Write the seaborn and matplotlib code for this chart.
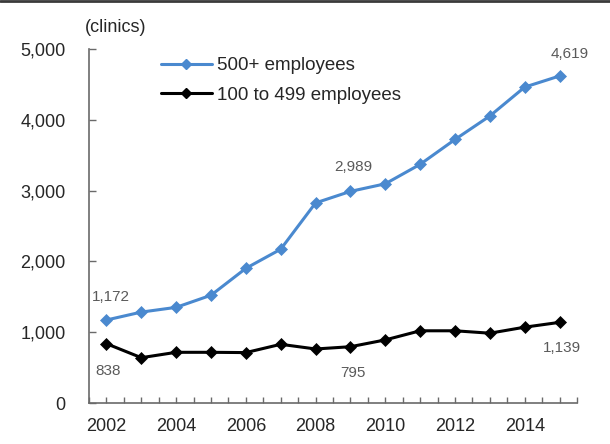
import matplotlib
matplotlib.use("Agg")
import matplotlib.pyplot as plt
import seaborn as sns
from matplotlib.ticker import MultipleLocator, FuncFormatter
from matplotlib.lines import Line2D

# ---- data ----
years = list(range(2002, 2016))
large_clinics = [1172, 1284, 1351, 1522, 1902, 2172, 2826, 2989, 3096, 3371, 3722, 4054, 4462, 4619]
mid_clinics = [838, 640, 716, 716, 712, 829, 763, 795, 891, 1020, 1020, 986, 1071, 1139]
series_names = ["500+ employees", "100 to 499 employees"]
y_ticks = [0, 1000, 2000, 3000, 4000, 5000]
x_tick_years = [2002, 2004, 2006, 2008, 2010, 2012, 2014]
unit_label = "(clinics)"

# labelled points: (series index, year)
labelled = [(0, 2002), (0, 2009), (0, 2015), (1, 2002), (1, 2009), (1, 2015)]

sns.set_theme(style="white")
plt.rcParams["font.family"] = ["Liberation Sans", "DejaVu Sans"]

blue = "#4a89cf"
black = "#000000"
axis_grey = "#6a6a6a"
text_dark = "#262626"
label_grey = "#5a5a5a"

fig = plt.figure(figsize=(6.1, 4.44), dpi=100)
ax = fig.add_axes([89 / 610, 1 - 403 / 444, (577 - 89) / 610, (403 - 49) / 444])

sns.lineplot(x=years, y=large_clinics, ax=ax, color=blue, linewidth=2.2,
             marker="D", markersize=6.5, markeredgecolor=blue, markeredgewidth=0.5)
sns.lineplot(x=years, y=mid_clinics, ax=ax, color=black, linewidth=2.2,
             marker="D", markersize=6.5, markeredgecolor=black, markeredgewidth=0.5)

ax.set_xlim(2001.5, 2015.5)
ax.set_ylim(y_ticks[0], y_ticks[-1])
ax.set_xticks(x_tick_years)
ax.set_xticklabels([str(y) for y in x_tick_years])
ax.xaxis.set_minor_locator(MultipleLocator(0.5))
ax.set_yticks(y_ticks)
ax.yaxis.set_major_formatter(FuncFormatter(lambda v, p: f"{int(v):,}"))

for s in ["top", "right"]:
    ax.spines[s].set_visible(False)
for s in ["left", "bottom"]:
    ax.spines[s].set_color(axis_grey)
    ax.spines[s].set_linewidth(1.2)

ax.tick_params(axis="x", which="both", direction="in", length=4, width=1,
               color=axis_grey, labelsize=13, labelcolor=text_dark, pad=10.5, bottom=True)
ax.tick_params(axis="y", which="major", direction="in", length=5, width=1,
               color=axis_grey, labelsize=13, labelcolor=text_dark, pad=17, left=True)
ax.set_xlabel("")
ax.set_ylabel("")
ax.grid(False)

# data labels
offsets = {
    (0, 2002): (4, 23), (0, 2009): (3, 24), (0, 2015): (10, 22),
    (1, 2002): (2, -27), (1, 2009): (3, -26), (1, 2015): (2, -26),
}
series_vals = [large_clinics, mid_clinics]
for si, yr in labelled:
    v = series_vals[si][years.index(yr)]
    dx, dy = offsets[(si, yr)]
    ax.annotate(f"{v:,}", (yr, v), xytext=(dx, dy), textcoords="offset pixels",
                ha="center", va="center", fontsize=11, color=label_grey)

# legend
handles = [
    Line2D([], [], color=blue, linewidth=2.2, marker="D", markersize=5, markeredgecolor=blue),
    Line2D([], [], color=black, linewidth=2.2, marker="D", markersize=5, markeredgecolor=black),
]
ax.legend(handles, series_names, loc="upper left",
          bbox_to_anchor=(161 / 610, 1 - 57 / 444), bbox_transform=fig.transFigure,
          frameon=False, fontsize=13.5, handlelength=2.7, handletextpad=0.3,
          labelspacing=0.68, borderpad=0, borderaxespad=0, labelcolor=text_dark)

fig.text(85 / 610, 1 - 27 / 444, unit_label, ha="left", va="center",
         fontsize=13, color=text_dark)

# top frame line
fig.add_artist(Line2D([0, 1], [0.997, 0.997], transform=fig.transFigure,
                      color="#3a3a3a", linewidth=2))

fig.savefig("out.png", dpi=100)
